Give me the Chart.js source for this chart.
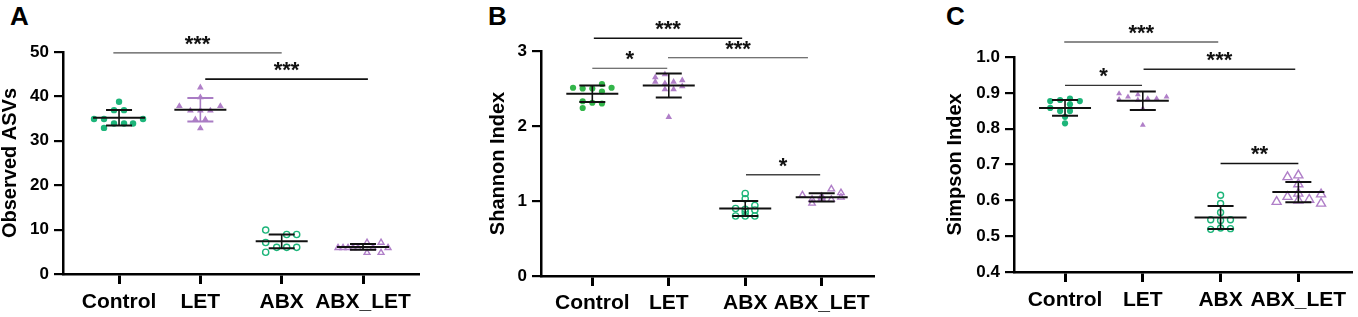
<!DOCTYPE html>
<html>
<head>
<meta charset="utf-8">
<script src="https://cdn.jsdelivr.net/npm/chart.js@4.4.0/dist/chart.umd.min.js"></script>
<style>
  body { margin: 0; background: #fff; width: 1358px; height: 317px; position: relative; overflow: hidden; }
  .panel { position: absolute; top: 0; height: 317px; }
  .letter { position: absolute; top: 3px; font: bold 26px/26px "Liberation Sans", Arial, sans-serif; color: #000; }
</style>
</head>
<body>
<div class="letter" style="left:10px">A</div>
<div class="letter" style="left:488px">B</div>
<div class="letter" style="left:946px">C</div>
<div class="panel" style="left:-2px;width:442px"><canvas id="chartA"></canvas></div>
<div class="panel" style="left:450px;width:440px"><canvas id="chartB"></canvas></div>
<div class="panel" style="left:900px;width:458px"><canvas id="chartC"></canvas></div>
<script>
const groups = ['Control', 'LET', 'ABX', 'ABX_LET'];

// A - Observed ASVs
const asvTicks = [0, 10, 20, 30, 40, 50];
const asvControl = [38.8, 36.9, 36.9, 34.9, 34.9, 34.9, 33.9, 33.9, 33.9, 32.9];
const asvLet = [42.0, 39.8, 37.8, 37.8, 36.8, 36.8, 36.8, 34.8, 34.8, 32.8];
const asvAbx = [9.9, 8.9, 8.9, 7.1, 6.0, 6.0, 6.0, 4.9];
const asvAbxLet = [5.9, 5.9, 5.9, 5.9, 5.9, 5.9, 5.9, 7.1, 7.1, 4.8, 4.8];
const asvMean = [35.2, 37.0, 7.35, 6.1];
const asvSd = [1.75, 2.65, 1.55, 0.65];
const asvPairs = [[-0.07, 2.0], [1.06, 3.06]];
const asvPairY = [49.8, 43.9];
const asvStars = ['***', '***'];
// horizontal spread of the dots (in dot widths)
const asvSpread = [
    [0, -0.5, 0.5, -2.5, -1.5, 2.4, -0.5, 0.5, 1.4, -1.5],
    [0, 0, -2.1, 2.0, -1.0, 0, 1.0, -0.5, 0.5, 0],
    [-1.6, 0.5, 1.5, -1.6, -0.5, 0.5, 1.5, -1.6],
    [-2.5, -2.0, -1.5, -1.0, -0.5, 1.0, 2.5, 0.4, 1.8, 0.4, 1.8]
];

// B - Shannon Index
const shannonTicks = [0, 1, 2, 3];
const shannonControl = [2.51, 2.50, 2.50, 2.56, 2.51, 2.46, 2.33, 2.31, 2.30, 2.24];
const shannonLet = [2.65, 2.69, 2.59, 2.57, 2.59, 2.61, 2.49, 2.49, 2.53, 2.12];
const shannonAbx = [1.10, 1.03, 0.90, 0.94, 0.88, 0.89, 0.80, 0.80, 0.80, 0.85];
const shannonAbxLet = [1.08, 1.02, 0.97, 1.06, 1.03, 1.16, 1.02, 1.11, 1.05, 1.04];
const shannonMean = [2.43, 2.54, 0.90, 1.05];
const shannonSd = [0.11, 0.16, 0.10, 0.055];
const shannonPairs = [[0.02, 1.96], [0, 0.98], [0.99, 2.82], [2.01, 2.98]];
const shannonPairY = [3.17, 2.77, 2.91, 1.35];
const shannonStars = ['***', '*', '***', '*'];
const shannonSpread = [
    [-2.0, -1.0, 0, 1.0, 2.0, 1.0, -1.0, 0, 1.0, -1.0],
    [-1.4, -0.4, -1.4, -0.4, 0.5, 1.4, -0.4, 0.5, 1.4, 0],
    [0, 0, -1, 1, 1, 0, -1, 0, 1, 0],
    [-2, -1, -1, 0, 0, 1, 1, 2, 2, 0]
];

// C - Simpson Index
const simpsonTicks = [0.4, 0.5, 0.6, 0.7, 0.8, 0.9, 1.0];
const simpsonControl = [0.877, 0.880, 0.884, 0.877, 0.858, 0.849, 0.849, 0.868, 0.833, 0.815];
const simpsonLet = [0.898, 0.882, 0.889, 0.895, 0.880, 0.884, 0.884, 0.889, 0.856, 0.810];
const simpsonAbx = [0.614, 0.591, 0.566, 0.546, 0.544, 0.546, 0.519, 0.523, 0.521];
const simpsonAbxLet = [0.596, 0.665, 0.670, 0.610, 0.645, 0.619, 0.600, 0.602, 0.617, 0.591];
const simpsonMean = [0.858, 0.878, 0.552, 0.623];
const simpsonSd = [0.022, 0.026, 0.032, 0.028];
const simpsonPairs = [[-0.01, 1.97], [0, 0.99], [1.01, 2.96], [2.0, 3.0]];
const simpsonPairY = [1.042, 0.921, 0.966, 0.703];
const simpsonStars = ['***', '*', '***', '**'];
const simpsonSpread = [
    [-1.5, -0.5, 0.5, 1.5, -1.5, -0.5, 0.5, 0.5, 0, 0],
    [-2.4, -2.4, -1.5, -0.5, -0.5, 0.5, 1.4, 2.4, 0, 0],
    [0, 0, 0, -1, 0, 1, -1, 0, 1],
    [-2.2, -1.1, 0, -1.1, 0, 0, 0, 1.1, 2.3, 2.3]
];

const FONT = '"Liberation Sans", Arial, sans-serif';
const green = '#1db57a';
const greenB = '#33b54a';
const purple = '#b07fc8';

const panels = [
    {
        id: 'chartA', title: 'Observed ASVs', yTicks: asvTicks, decimals: 0,
        values: [asvControl, asvLet, asvAbx, asvAbxLet], spread: asvSpread,
        mean: asvMean, sd: asvSd, pairs: asvPairs, pairY: asvPairY, stars: asvStars,
        xMin: -0.689, xMax: 3.676, step: 0.123,
        pad: { left: 0, right: 22, top: 52 }, yWidth: 65, xHeight: 43, labelPad: 6,
        markers: [
            { style: 'circle', r: 3.2, color: green, open: false },
            { style: 'triangle', r: 3.9, color: purple, open: false },
            { style: 'circle', r: 3.1, color: green, open: true },
            { style: 'triangle', r: 3.4, color: purple, open: true }
        ],
        sdColor: ['#111', '#a97cc4', '#111', '#111'],
        lineColor: ['#555', '#111'], lineWidth: [1.2, 1.6]
    },
    {
        id: 'chartB', title: 'Shannon Index', yTicks: shannonTicks, decimals: 0,
        values: [shannonControl, shannonLet, shannonAbx, shannonAbxLet], spread: shannonSpread,
        mean: shannonMean, sd: shannonSd, pairs: shannonPairs, pairY: shannonPairY, stars: shannonStars,
        xMin: -0.671, xMax: 3.671, step: 0.126,
        pad: { left: 36, right: 17, top: 51 }, yWidth: 55, xHeight: 41, labelPad: 5,
        markers: [
            { style: 'circle', r: 3.1, color: greenB, open: false },
            { style: 'triangle', r: 3.8, color: purple, open: false },
            { style: 'circle', r: 3.1, color: green, open: true },
            { style: 'triangle', r: 3.7, color: purple, open: true }
        ],
        sdColor: ['#111', '#111', '#111', '#111'],
        lineColor: ['#111', '#444', '#444', '#444'], lineWidth: [1.3, 1.2, 1.2, 1.3]
    },
    {
        id: 'chartC', title: 'Simpson Index', yTicks: simpsonTicks, decimals: 1,
        values: [simpsonControl, simpsonLet, simpsonAbx, simpsonAbxLet], spread: simpsonSpread,
        mean: simpsonMean, sd: simpsonSd, pairs: simpsonPairs, pairY: simpsonPairY, stars: simpsonStars,
        xMin: -0.656, xMax: 3.682, step: 0.127,
        pad: { left: 43, right: 2, top: 57 }, yWidth: 71, xHeight: 45, labelPad: 6,
        markers: [
            { style: 'circle', r: 3.1, color: green, open: false },
            { style: 'triangle', r: 3.4, color: purple, open: false },
            { style: 'circle', r: 3.0, color: green, open: true },
            { style: 'triangle', r: 5.2, color: purple, open: true }
        ],
        sdColor: ['#111', '#111', '#111', '#111'],
        lineColor: ['#666', '#333', '#222', '#111'], lineWidth: [1.4, 1.3, 1.4, 1.6]
    }
];

// mean line, SD whiskers and the significance stars
const makeBarsPlugin = p => ({
    id: 'meanSd',
    afterDatasetsDraw(chart) {
        const { ctx, scales: { x, y } } = chart;
        ctx.save();
        p.mean.forEach((m, i) => {
            const cx = x.getPixelForValue(i);
            const yt = y.getPixelForValue(m + p.sd[i]);
            const yb = y.getPixelForValue(m - p.sd[i]);
            const ym = y.getPixelForValue(m);
            ctx.strokeStyle = p.sdColor[i];
            ctx.lineWidth = 1.6;
            ctx.beginPath();
            ctx.moveTo(cx, yt); ctx.lineTo(cx, yb);
            ctx.stroke();
            ctx.lineWidth = 2;
            ctx.beginPath();
            ctx.moveTo(cx - 13, yt); ctx.lineTo(cx + 13, yt);
            ctx.moveTo(cx - 13, yb); ctx.lineTo(cx + 13, yb);
            ctx.stroke();
            ctx.strokeStyle = '#111';
            ctx.beginPath();
            ctx.moveTo(cx - 26, ym); ctx.lineTo(cx + 26, ym);
            ctx.stroke();
        });
        ctx.fillStyle = '#111';
        ctx.font = 'bold 22px ' + FONT;
        ctx.textAlign = 'center';
        ctx.textBaseline = 'alphabetic';
        p.stars.forEach((s, k) => {
            const [a, b] = p.pairs[k];
            ctx.fillText(s, x.getPixelForValue((a + b) / 2), y.getPixelForValue(p.pairY[k]) - 2);
        });
        ctx.restore();
    }
});

panels.forEach(p => {
    const datasets = [];
    p.values.forEach((vals, i) => {
        const mk = p.markers[i];
        datasets.push({
            type: 'scatter',
            data: vals.map((v, j) => ({ x: i + p.spread[i][j] * p.step, y: v })),
            pointStyle: mk.style,
            pointRadius: mk.r,
            borderWidth: mk.open ? 1.4 : 0,
            borderColor: mk.color,
            backgroundColor: mk.open ? 'rgba(255,255,255,0)' : mk.color,
            clip: false
        });
    });
    p.pairs.forEach((pr, k) => {
        datasets.push({
            type: 'scatter',
            showLine: true,
            data: [{ x: pr[0], y: p.pairY[k] }, { x: pr[1], y: p.pairY[k] }],
            borderColor: p.lineColor[k],
            borderWidth: p.lineWidth[k],
            pointRadius: 0,
            clip: false
        });
    });

    new Chart(document.getElementById(p.id), {
        type: 'scatter',
        data: { datasets },
        options: {
            responsive: true,
            maintainAspectRatio: false,
            animation: false,
            layout: { padding: { left: p.pad.left, right: p.pad.right, top: p.pad.top, bottom: 0 } },
            plugins: { legend: { display: false }, tooltip: { enabled: false } },
            scales: {
                x: {
                    type: 'linear',
                    min: p.xMin,
                    max: p.xMax,
                    afterBuildTicks: s => { s.ticks = groups.map((g, i) => ({ value: i })); },
                    afterFit: s => { s.height = p.xHeight; },
                    ticks: {
                        callback: v => groups[v],
                        color: '#000',
                        font: { family: FONT, size: 21, weight: 'bold' },
                        padding: p.labelPad,
                        maxRotation: 0,
                        autoSkip: false
                    },
                    grid: { drawOnChartArea: false, tickLength: 10, lineWidth: 3, tickColor: '#000', color: '#000' },
                    border: { display: true, color: '#000', width: 2.5 }
                },
                y: {
                    type: 'linear',
                    min: p.yTicks[0],
                    max: p.yTicks[p.yTicks.length - 1],
                    afterBuildTicks: s => { s.ticks = p.yTicks.map(v => ({ value: v })); },
                    afterFit: s => { s.width = p.yWidth; },
                    ticks: {
                        callback: v => v.toFixed(p.decimals),
                        color: '#000',
                        font: { family: FONT, size: 17, weight: 'bold' },
                        padding: 5
                    },
                    grid: { drawOnChartArea: false, tickLength: 9, lineWidth: 2.2, tickColor: '#000', color: '#000' },
                    border: { display: true, color: '#000', width: 2.5 },
                    title: {
                        display: true,
                        text: p.title,
                        color: '#000',
                        font: { family: FONT, size: 20, weight: 'bold' },
                        padding: 0
                    }
                }
            }
        },
        plugins: [makeBarsPlugin(p)]
    });
});
</script>
</body>
</html>
